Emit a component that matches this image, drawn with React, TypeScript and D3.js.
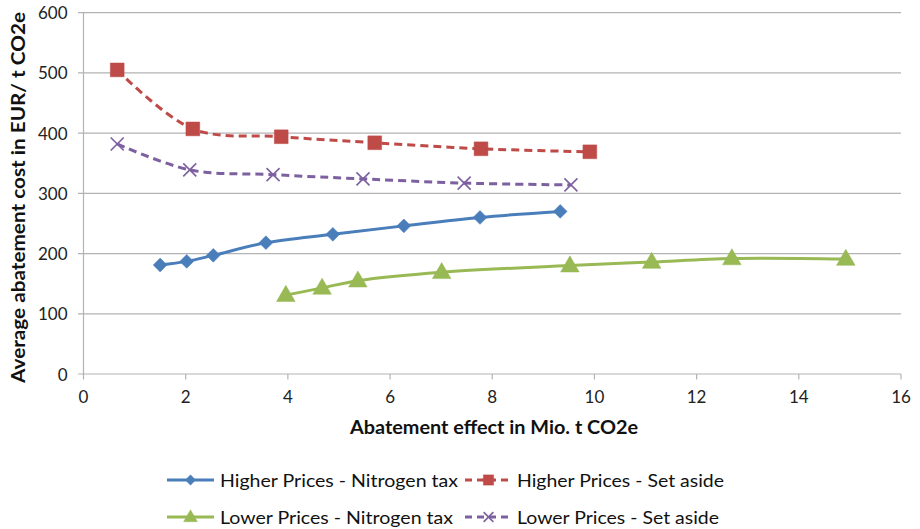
import React from "react";
import * as d3 from "d3";

const hpNitroX = [1.5, 2.02, 2.54, 3.57, 4.88, 6.27, 7.76, 9.33];
const hpNitroY = [181, 187, 197, 218, 232, 246, 260, 270];
const hpSetX = [0.66, 2.14, 3.87, 5.7, 7.78, 9.91];
const hpSetY = [505, 407, 394, 384, 374, 369];
const lpNitroX = [3.96, 4.67, 5.37, 7.01, 9.52, 11.12, 12.69, 14.92];
const lpNitroY = [131, 143, 155, 169, 180, 186, 192, 191];
const lpSetX = [0.66, 2.08, 3.71, 5.47, 7.45, 9.54];
const lpSetY = [382, 339, 331, 324, 317, 314];

const xTicks = [0, 2, 4, 6, 8, 10, 12, 14, 16];
const yTicks = [0, 100, 200, 300, 400, 500, 600];

const seriesNames = [
  "Higher Prices - Nitrogen tax",
  "Higher Prices - Set aside",
  "Lower Prices - Nitrogen tax",
  "Lower Prices - Set aside",
];

const FONT = "Lato, 'Open Sans', sans-serif";

type Series = {
  name: string;
  xs: number[];
  ys: number[];
  color: string;
  dashed: boolean;
  marker: "diamond" | "square" | "triangle" | "x";
};

const series: Series[] = [
  { name: seriesNames[0], xs: hpNitroX, ys: hpNitroY, color: "#4A7EBB", dashed: false, marker: "diamond" },
  { name: seriesNames[1], xs: hpSetX, ys: hpSetY, color: "#BE4B48", dashed: true, marker: "square" },
  { name: seriesNames[2], xs: lpNitroX, ys: lpNitroY, color: "#98B954", dashed: false, marker: "triangle" },
  { name: seriesNames[3], xs: lpSetX, ys: lpSetY, color: "#7D60A0", dashed: true, marker: "x" },
];

function Marker({
  kind,
  cx,
  cy,
  color,
  scale = 1,
}: {
  kind: Series["marker"];
  cx: number;
  cy: number;
  color: string;
  scale?: number;
}) {
  if (kind === "x") {
    const r = 6.5 * scale;
    return (
      <g stroke={color} strokeWidth={1.6}>
        <line x1={cx - r} y1={cy - r} x2={cx + r} y2={cy + r} />
        <line x1={cx - r} y1={cy + r} x2={cx + r} y2={cy - r} />
      </g>
    );
  }
  if (kind === "diamond") {
    const path = d3.symbol().type(d3.symbolSquare).size(95)() as string;
    return (
      <path
        d={path}
        transform={`translate(${cx},${cy}) rotate(45) scale(${scale})`}
        fill={color}
        stroke={color}
        strokeWidth={0.5}
      />
    );
  }
  const sym = kind === "square" ? d3.symbolSquare : d3.symbolTriangle;
  const size = kind === "square" ? 190 : 150;
  const path = d3.symbol().type(sym).size(size)() as string;
  const dy = kind === "triangle" ? 1 * scale : 0;
  return (
    <path
      d={path}
      transform={`translate(${cx},${cy + dy}) scale(${scale})`}
      fill={color}
      stroke={color}
      strokeWidth={0.5}
    />
  );
}

export default function App() {
  const W = 920;
  const H = 529;
  const x = d3.scaleLinear().domain([0, 16]).range([83.5, 901]);
  const y = d3.scaleLinear().domain([0, 600]).range([374, 12.7]);
  const line = d3
    .line<[number, number]>()
    .x((d) => x(d[0]))
    .y((d) => y(d[1]))
    .curve(d3.curveCatmullRom.alpha(0.5));

  const legendPos = [
    { lx: 167, tx: 220, yy: 480, len: 238 },
    { lx: 465, tx: 517, yy: 480, len: 207 },
    { lx: 167, tx: 220, yy: 517, len: 233 },
    { lx: 465, tx: 517, yy: 517, len: 202 },
  ];

  return (
    <svg width={W} height={H} style={{ position: "absolute", left: 0, top: 0, background: "#fff" }} fontFamily={FONT}>
      <rect x={0} y={0} width={W} height={H} fill="#fff" />
      {yTicks.map((t) => (
        <g key={"gy" + t}>
          <line x1={x(0) - 5.5} x2={x(16)} y1={y(t)} y2={y(t)} stroke="#b3b3b3" strokeWidth={1.2} />
          <text x={x(0) - 16} y={y(t)} textAnchor="end" dominantBaseline="central" fontSize={17} fill="#222">
            {t}
          </text>
        </g>
      ))}
      <line x1={x(0)} x2={x(0)} y1={y(600)} y2={y(0)} stroke="#b3b3b3" strokeWidth={1.2} />
      {xTicks.map((t) => (
        <g key={"gx" + t}>
          <line x1={x(t)} x2={x(t)} y1={y(0)} y2={y(0) + 5.5} stroke="#b3b3b3" strokeWidth={1.2} />
          <text x={x(t)} y={396} textAnchor="middle" dominantBaseline="central" fontSize={17} fill="#222">
            {t}
          </text>
        </g>
      ))}
      <text
        x={494}
        y={426}
        textAnchor="middle"
        dominantBaseline="central"
        fontSize={19}
        fontWeight="bold"
        fill="#111"
        textLength={288}
        lengthAdjust="spacingAndGlyphs"
      >
        Abatement effect in Mio. t CO2e
      </text>
      <text
        transform={`translate(17,197.5) rotate(-90)`}
        textAnchor="middle"
        dominantBaseline="central"
        fontSize={19}
        fontWeight="bold"
        fill="#111"
        textLength={371}
        lengthAdjust="spacingAndGlyphs"
      >
        Average abatement cost in EUR/ t CO2e
      </text>

      {series.map((s) => {
        const pts = s.xs.map((v, i) => [v, s.ys[i]] as [number, number]);
        return (
          <g key={s.name}>
            <path
              d={line(pts) as string}
              fill="none"
              stroke={s.color}
              strokeWidth={3}
              strokeDasharray={s.dashed ? "8,5" : undefined}
            />
            {pts.map((p, i) => (
              <Marker key={i} kind={s.marker} cx={x(p[0])} cy={y(p[1])} color={s.color} />
            ))}
          </g>
        );
      })}

      {series.map((s, i) => {
        const lp = legendPos[i];
        return (
          <g key={"lg" + i}>
            <line
              x1={lp.lx}
              x2={lp.lx + 47}
              y1={lp.yy}
              y2={lp.yy}
              stroke={s.color}
              strokeWidth={3}
              strokeDasharray={s.dashed ? "7,5" : undefined}
            />
            <Marker kind={s.marker} cx={lp.lx + 23.5} cy={lp.yy} color={s.color} scale={0.75} />
            <text
              x={lp.tx}
              y={lp.yy}
              dominantBaseline="central"
              fontSize={18}
              fill="#111"
              textLength={lp.len}
              lengthAdjust="spacingAndGlyphs"
            >
              {s.name}
            </text>
          </g>
        );
      })}
    </svg>
  );
}
